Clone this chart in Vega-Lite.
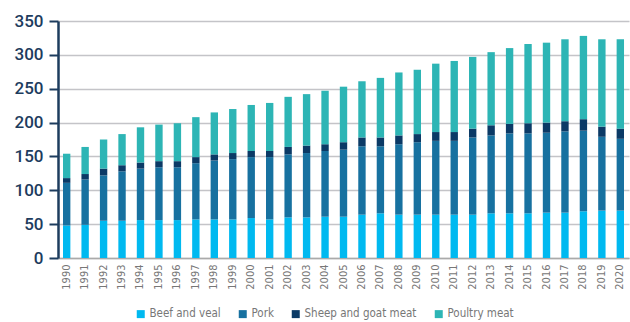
{
  "$schema": "https://vega.github.io/schema/vega-lite/v6.json",
  "autosize": {"type": "none"},
  "padding": {"left": 58, "top": 21, "right": 1, "bottom": 64},
  "width": 571,
  "height": 237,
  "background": "white",
  "data": {"values": [
    {"year":"1990","Beef and veal":48,"Pork":63,"Sheep and goat meat":7,"Poultry meat":36},
    {"year":"1991","Beef and veal":49,"Pork":67,"Sheep and goat meat":8,"Poultry meat":40},
    {"year":"1992","Beef and veal":55,"Pork":67,"Sheep and goat meat":10,"Poultry meat":43},
    {"year":"1993","Beef and veal":55,"Pork":73,"Sheep and goat meat":9,"Poultry meat":46},
    {"year":"1994","Beef and veal":56,"Pork":76,"Sheep and goat meat":9,"Poultry meat":52},
    {"year":"1995","Beef and veal":56,"Pork":78,"Sheep and goat meat":9,"Poultry meat":54},
    {"year":"1996","Beef and veal":56,"Pork":78,"Sheep and goat meat":9,"Poultry meat":56},
    {"year":"1997","Beef and veal":57,"Pork":83,"Sheep and goat meat":9,"Poultry meat":59},
    {"year":"1998","Beef and veal":57,"Pork":87,"Sheep and goat meat":9,"Poultry meat":62},
    {"year":"1999","Beef and veal":57,"Pork":89,"Sheep and goat meat":9,"Poultry meat":65},
    {"year":"2000","Beef and veal":59,"Pork":90,"Sheep and goat meat":9,"Poultry meat":68},
    {"year":"2001","Beef and veal":57,"Pork":92,"Sheep and goat meat":9,"Poultry meat":71},
    {"year":"2002","Beef and veal":60,"Pork":93,"Sheep and goat meat":11,"Poultry meat":74},
    {"year":"2003","Beef and veal":60,"Pork":95,"Sheep and goat meat":11,"Poultry meat":76},
    {"year":"2004","Beef and veal":61,"Pork":97,"Sheep and goat meat":10,"Poultry meat":79},
    {"year":"2005","Beef and veal":61,"Pork":99,"Sheep and goat meat":11,"Poultry meat":82},
    {"year":"2006","Beef and veal":64,"Pork":101,"Sheep and goat meat":13,"Poultry meat":83},
    {"year":"2007","Beef and veal":66,"Pork":99,"Sheep and goat meat":13,"Poultry meat":88},
    {"year":"2008","Beef and veal":64,"Pork":104,"Sheep and goat meat":13,"Poultry meat":93},
    {"year":"2009","Beef and veal":64,"Pork":107,"Sheep and goat meat":12,"Poultry meat":95},
    {"year":"2010","Beef and veal":64,"Pork":109,"Sheep and goat meat":13,"Poultry meat":101},
    {"year":"2011","Beef and veal":64,"Pork":109,"Sheep and goat meat":13,"Poultry meat":105},
    {"year":"2012","Beef and veal":64,"Pork":114,"Sheep and goat meat":13,"Poultry meat":106},
    {"year":"2013","Beef and veal":66,"Pork":115,"Sheep and goat meat":15,"Poultry meat":108},
    {"year":"2014","Beef and veal":66,"Pork":118,"Sheep and goat meat":14,"Poultry meat":112},
    {"year":"2015","Beef and veal":66,"Pork":118,"Sheep and goat meat":15,"Poultry meat":117},
    {"year":"2016","Beef and veal":67,"Pork":118,"Sheep and goat meat":15,"Poultry meat":118},
    {"year":"2017","Beef and veal":67,"Pork":120,"Sheep and goat meat":15,"Poultry meat":121},
    {"year":"2018","Beef and veal":69,"Pork":119,"Sheep and goat meat":17,"Poultry meat":123},
    {"year":"2019","Beef and veal":70,"Pork":109,"Sheep and goat meat":15,"Poultry meat":129},
    {"year":"2020","Beef and veal":70,"Pork":106,"Sheep and goat meat":15,"Poultry meat":132}
  ]},
  "transform": [
    {"fold": ["Beef and veal","Pork","Sheep and goat meat","Poultry meat"], "as": ["type","value"]},
    {"calculate": "indexof(['Beef and veal','Pork','Sheep and goat meat','Poultry meat'], datum.type)", "as": "stackRank"}
  ],
  "mark": {"type": "bar"},
  "encoding": {
    "x": {
      "field": "year", "type": "nominal",
      "scale": {"paddingInner": 0.6, "paddingOuter": 0.27},
      "axis": {
        "title": null, "labelAngle": -90, "labelFont": "'DejaVu Sans Condensed', Roboto",
        "labelFontSize": 11, "labelColor": "#777777", "ticks": false,
        "domainColor": "#aaaaaa", "domainWidth": 1.5, "labelPadding": 6
      }
    },
    "y": {
      "field": "value", "type": "quantitative", "aggregate": "sum",
      "stack": "zero",
      "scale": {"domain": [0, 350]},
      "axis": {
        "title": null, "values": [0,50,100,150,200,250,300,350],
        "labelFont": "Roboto", "labelFontWeight": 500, "labelFontSize": 17,
        "labelColor": "#1d3c5e", "domainColor": "#1d3c5e", "domainWidth": 2.5,
        "tickColor": "#1d3c5e", "tickWidth": 2, "tickSize": 9, "labelPadding": 6,
        "gridColor": "#c4c4c8", "gridWidth": 1.3
      }
    },
    "color": {
      "field": "type", "type": "nominal",
      "scale": {
        "domain": ["Beef and veal","Pork","Sheep and goat meat","Poultry meat"],
        "range": ["#00b9f0","#1771a0","#0b3a66","#2db5b5"]
      },
      "legend": {
        "title": null, "orient": "none", "legendX": 77, "legendY": 287,
        "direction": "horizontal", "columns": 4, "columnPadding": 16,
        "symbolType": "square", "symbolSize": 64, "symbolStrokeWidth": 0,
        "labelFont": "'DejaVu Sans Condensed', Roboto", "labelFontSize": 11.5,
        "labelColor": "#777777", "labelOffset": 3
      }
    },
    "order": {"field": "stackRank", "type": "quantitative", "sort": "ascending"}
  },
  "config": {
    "view": {"stroke": null}
  }
}
